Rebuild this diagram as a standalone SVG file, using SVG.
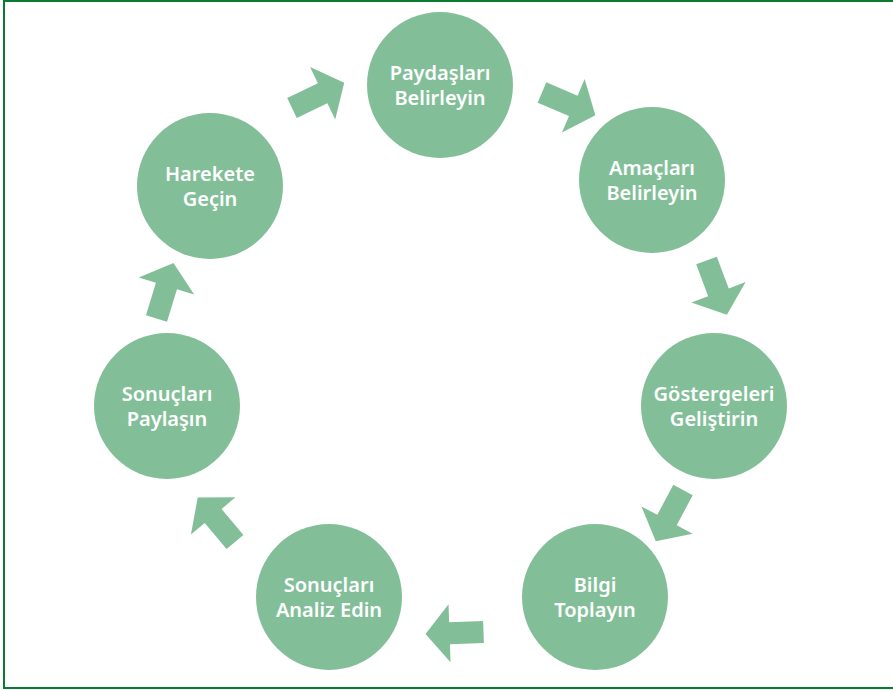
<svg xmlns="http://www.w3.org/2000/svg" width="893" height="690" viewBox="0 0 893 690">
<style>
.n{fill:#82bf98}
.t{fill:#ffffff;font-family:"Noto Sans","Open Sans",sans-serif;font-weight:600;font-size:20px;text-anchor:middle}
.a{fill:#82bf98}
</style>
<defs>
<polygon id="arr" points="0,-11 34,-11 34,-29 58,0 34,29 34,11 0,11"/>
</defs>
<rect x="4" y="1" width="900" height="687" fill="#ffffff" stroke="#0a7a30" stroke-width="2"/>
<g id="connectors" class="a">
<use href="#arr" transform="translate(292,108) rotate(-25.7)"/>
<use href="#arr" transform="translate(542,92.5) rotate(23)"/>
<use href="#arr" transform="translate(706.5,260.5) rotate(69.4)"/>
<use href="#arr" transform="translate(683,490) rotate(118)"/>
<use href="#arr" transform="translate(483.5,632) rotate(178)"/>
<use href="#arr" transform="translate(235,542) rotate(230)"/>
<use href="#arr" transform="translate(156.5,318.5) rotate(-73)"/>
</g>
<g id="n1"><circle class="n" cx="440" cy="85" r="73"/><text class="t" x="440" y="80">Paydaşları</text><text class="t" x="440" y="105">Belirleyin</text></g>
<g id="n2"><circle class="n" cx="652" cy="180" r="73"/><text class="t" x="652" y="175">Amaçları</text><text class="t" x="652" y="200">Belirleyin</text></g>
<g id="n3"><circle class="n" cx="714" cy="406" r="73"/><text class="t" x="714" y="401">Göstergeleri</text><text class="t" x="714" y="426">Geliştirin</text></g>
<g id="n4"><circle class="n" cx="595" cy="597" r="73"/><text class="t" x="595" y="592">Bilgi</text><text class="t" x="595" y="617">Toplayın</text></g>
<g id="n5"><circle class="n" cx="329" cy="597" r="73"/><text class="t" x="329" y="592">Sonuçları</text><text class="t" x="329" y="617">Analiz Edin</text></g>
<g id="n6"><circle class="n" cx="167" cy="406" r="73"/><text class="t" x="167" y="401">Sonuçları</text><text class="t" x="167" y="426">Paylaşın</text></g>
<g id="n7"><circle class="n" cx="210" cy="186" r="73"/><text class="t" x="210" y="181">Harekete</text><text class="t" x="210" y="206">Geçin</text></g>
</svg>
